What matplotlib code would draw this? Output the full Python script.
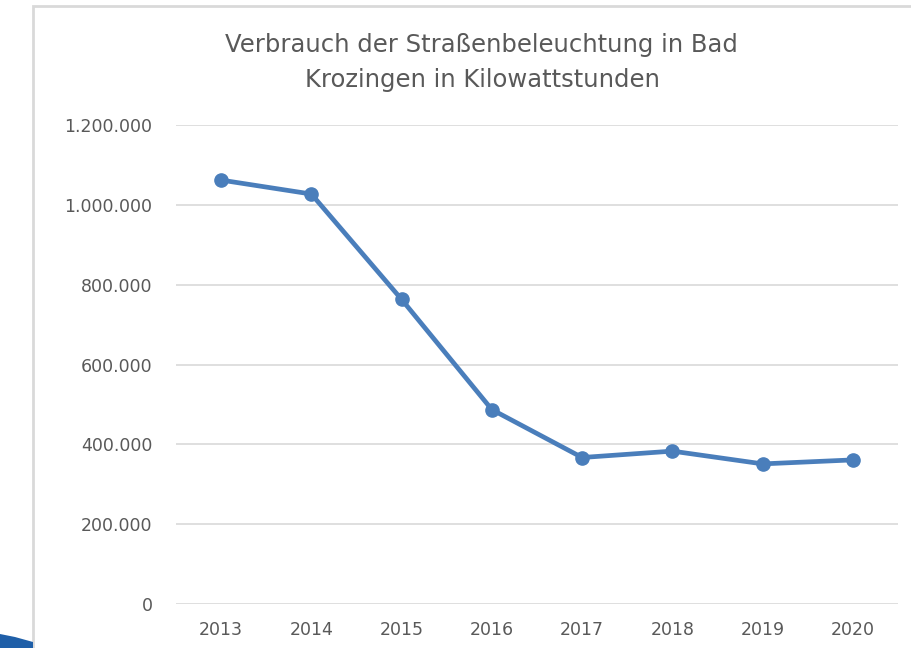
import matplotlib.pyplot as plt
from matplotlib.patches import Rectangle, Polygon
from matplotlib.ticker import FuncFormatter

# Daten
jahre = ['2013', '2014', '2015', '2016', '2017', '2018', '2019', '2020']
verbrauch = [1062000, 1027000, 763000, 487000, 367000, 383000, 351000, 361000]
y_ticks = [0, 200000, 400000, 600000, 800000, 1000000, 1200000]

schrift = 'DejaVu Sans'
grau = '#595959'

fig = plt.figure(figsize=(9.12, 6.48), dpi=100)
fig.patch.set_facecolor('white')

# Rahmen des Diagramms (läuft rechts und unten aus dem Bild)
fig.patches.append(Rectangle((33 / 912, -0.1), 1.0, 1.1 - 6 / 648,
                             transform=fig.transFigure, fill=False,
                             edgecolor='#d9d9d9', linewidth=2))

# blauer Bogen unten links
fig.patches.append(Polygon([(0, 0), (0, 14 / 648), (15 / 912, 11 / 648),
                            (33 / 912, 6 / 648), (33 / 912, 0)],
                           closed=True, transform=fig.transFigure,
                           facecolor='#1f5fa8', edgecolor='none'))

ax = fig.add_axes([176 / 912, 44 / 648, 722 / 912, 479 / 648])
ax.plot(range(len(jahre)), verbrauch, color='#4a7ebb', linewidth=3.4,
        marker='o', markersize=9.5, solid_capstyle='round')

ax.set_xlim(-0.5, len(jahre) - 0.5)
ax.set_ylim(0, 1200000)
ax.set_yticks(y_ticks)
ax.yaxis.set_major_formatter(FuncFormatter(lambda v, p: f'{int(v):,}'.replace(',', '.')))
ax.set_xticks(range(len(jahre)))
ax.set_xticklabels(jahre)
ax.grid(axis='y', color='#d9d9d9', linewidth=1.2)
ax.set_axisbelow(True)
for s in ax.spines.values():
    s.set_visible(False)
ax.tick_params(length=0, labelsize=12.5, labelcolor=grau, pad=17)
ax.tick_params(axis='x', pad=12)
for lbl in ax.get_xticklabels() + ax.get_yticklabels():
    lbl.set_family(schrift)

fig.text(481 / 912, 1 - 45 / 648, 'Verbrauch der Straßenbeleuchtung in Bad',
         ha='center', va='center', fontsize=17.5, color=grau, family=schrift)
fig.text(482 / 912, 1 - 80 / 648, 'Krozingen in Kilowattstunden',
         ha='center', va='center', fontsize=17.5, color=grau, family=schrift)

fig.savefig('out.png', dpi=100)
